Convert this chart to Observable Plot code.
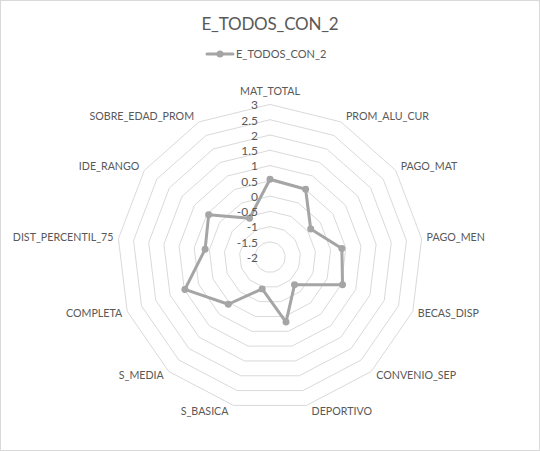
<!DOCTYPE html>
<html><head><meta charset="utf-8">
<script src="https://cdn.jsdelivr.net/npm/d3@7"></script>
<script src="https://cdn.jsdelivr.net/npm/@observablehq/plot@0.6"></script>
<style>
body{margin:0;background:#fff;font-family:Lato,"Open Sans",sans-serif;}
#chart{position:relative;width:540px;height:451px;box-sizing:border-box;border:1px solid #d9d9d9;background:#fff;overflow:hidden}
#title{position:absolute;left:-1px;top:10px;width:540px;text-align:center;font-size:17px;letter-spacing:-0.2px;color:#595959;line-height:26px}
#legend{position:absolute;left:-1px;top:42px}
#plot{position:absolute;left:-1px;top:69px}
</style></head>
<body>
<div id="chart">
  <div id="title">E_TODOS_CON_2</div>
  <div id="legend"></div>
  <div id="plot"></div>
</div>
<script>
const title = "E_TODOS_CON_2";
const seriesName = "E_TODOS_CON_2";
const categories = ["MAT_TOTAL","PROM_ALU_CUR","PAGO_MAT","PAGO_MEN","BECAS_DISP","CONVENIO_SEP","DEPORTIVO","S_BASICA","S_MEDIA","COMPLETA","DIST_PERCENTIL_75","IDE_RANGO","SOBRE_EDAD_PROM"];
const values = [0.55, 0.51, -0.38, 0.37, 0.54, -0.79, 0.19, -0.93, 0.06, 0.98, 0.14, 0.44, -0.56];
const tickValues = [-2, -1.5, -1, -0.5, 0, 0.5, 1, 1.5, 2, 2.5, 3];
const tickLabels = ["-2","-1.5","-1","-0.5","0","0.5","1","1.5","2","2.5","3"];

const axisMin = tickValues[0];
const axisMax = tickValues[tickValues.length - 1];
const R = axisMax - axisMin;
const n = categories.length;
const ang = i => (i % n) * 2 * Math.PI / n;
const px = 153 / R; // pixels per data unit (used only for small label offsets)

// rings
const rings = [];
tickValues.filter(t => t > axisMin).forEach(t => {
  for (let i = 0; i <= n; i++) rings.push({t, i});
});
// series
const series = d3.range(n + 1).map(i => ({i, v: values[i % n]}));
const points = d3.range(n).map(i => ({i, v: values[i]}));
// category labels
const cats = categories.map((c, i) => {
  const a = ang(i), s = Math.sin(a), co = Math.cos(a);
  const side = Math.abs(s) < 0.05 ? "mid" : (s > 0 ? "right" : "left");
  return {c, i, side,
    x: R * s + (side === "mid" ? 0 : Math.sign(s) * 5 / px),
    y: R * co + (side === "mid" ? 13 / px : 6 * co / px)};
});
const ticks = tickValues.map((t, k) => ({t, label: tickLabels[k]}));

const textColor = "#595959";
const lineColor = "#a5a5a5";
const fontFamily = 'Lato, "Open Sans", sans-serif';

const chart = Plot.plot({
  width: 540,
  height: 380,
  x: {domain: [-R, R], range: [117, 423], axis: null},
  y: {domain: [-R, R], range: [340, 34], axis: null},
  style: {fontFamily, background: "transparent"},
  marks: [
    Plot.line(rings, {
      x: d => (d.t - axisMin) * Math.sin(ang(d.i)),
      y: d => (d.t - axisMin) * Math.cos(ang(d.i)),
      z: "t", stroke: "#d9d9d9", strokeWidth: 1
    }),
    Plot.line(series, {
      x: d => (d.v - axisMin) * Math.sin(ang(d.i)),
      y: d => (d.v - axisMin) * Math.cos(ang(d.i)),
      stroke: lineColor, strokeWidth: 3, strokeLinejoin: "round"
    }),
    Plot.dot(points, {
      x: d => (d.v - axisMin) * Math.sin(ang(d.i)),
      y: d => (d.v - axisMin) * Math.cos(ang(d.i)),
      r: 3.5, fill: lineColor, stroke: null
    }),
    Plot.text(ticks, {
      x: () => 0, y: d => d.t - axisMin, text: "label",
      textAnchor: "end", dx: -12, dy: 1, fill: textColor, fontSize: 12
    }),
    Plot.text(cats.filter(d => d.side === "mid"), {x: "x", y: "y", text: "c", textAnchor: "middle", fill: textColor, fontSize: 10.7}),
    Plot.text(cats.filter(d => d.side === "right"), {x: "x", y: "y", text: "c", textAnchor: "start", fill: textColor, fontSize: 10.7}),
    Plot.text(cats.filter(d => d.side === "left"), {x: "x", y: "y", text: "c", textAnchor: "end", fill: textColor, fontSize: 10.7})
  ]
});
document.getElementById("plot").appendChild(chart);
document.getElementById("title").textContent = title;

document.getElementById("legend").innerHTML =
  `<svg width="540" height="22" style="font-family:${fontFamily}">
    <line x1="207" x2="233" y1="11" y2="11" stroke="${lineColor}" stroke-width="3" stroke-linecap="round"/>
    <circle cx="220" cy="11" r="3.5" fill="${lineColor}"/>
    <text x="236" y="11" dy="0.35em" font-size="11" fill="${textColor}">${seriesName}</text>
  </svg>`;
</script>
</body></html>
